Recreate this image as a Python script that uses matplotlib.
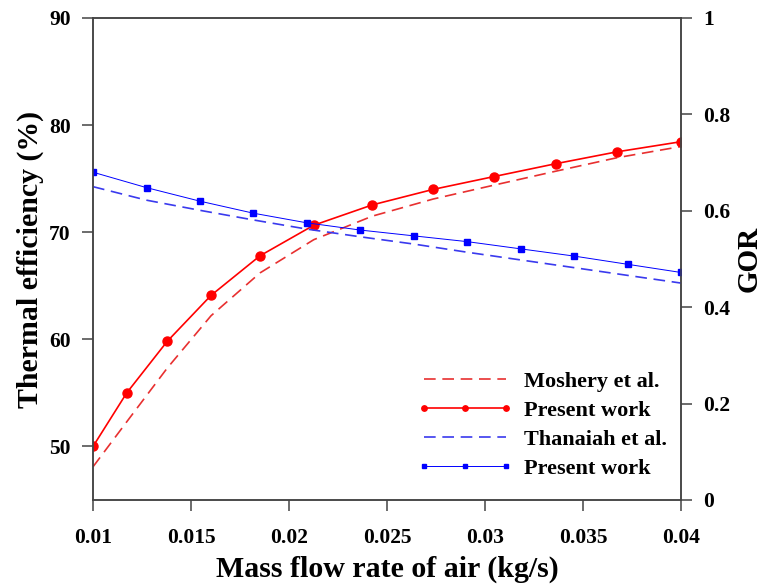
import matplotlib
matplotlib.use('Agg')
import matplotlib.pyplot as plt

plt.rcParams['font.family'] = ['Liberation Serif', 'DejaVu Serif']
plt.rcParams['font.weight'] = 'bold'

# mass flow rate (kg/s)
x_eff = [0.01, 0.01172, 0.01378, 0.01602, 0.01852, 0.02126, 0.02425,
         0.02736, 0.03047, 0.03362, 0.03672, 0.04]
eff_present = [50.0, 55.0, 59.8, 64.1, 67.8, 70.65, 72.55, 74.0, 75.2, 76.4, 77.5, 78.45]
eff_moshery = [48.1, 52.3, 57.3, 62.2, 66.2, 69.3, 71.5, 73.1, 74.4, 75.7, 76.95, 78.0]

x_gor = [0.01, 0.01273, 0.01545, 0.01818, 0.02091, 0.02364, 0.02636,
         0.02909, 0.03182, 0.03455, 0.03727, 0.04]
gor_present = [0.680, 0.648, 0.620, 0.595, 0.575, 0.560, 0.548, 0.536, 0.521, 0.506, 0.489, 0.472]
gor_thanaiah = [0.650, 0.622, 0.601, 0.581, 0.562, 0.546, 0.531, 0.514, 0.498, 0.482, 0.466, 0.450]

fig = plt.figure(figsize=(7.67, 5.86), dpi=100)
ax = fig.add_axes([0.1213, 0.1468, 0.7666, 0.8225])
ax2 = ax.twinx()

spine_c = '#444444'

l1, = ax.plot(x_eff, eff_moshery, color='#e83030', lw=1.2, dashes=(7, 4))
l2, = ax.plot(x_eff, eff_present, color='red', lw=1.2, marker='o', ms=6.5)
l3, = ax2.plot(x_gor, gor_thanaiah, color='#3a3aee', lw=1.2, dashes=(7, 4))
l4, = ax2.plot(x_gor, gor_present, color='blue', lw=0.7, marker='s', ms=5)

ax.set_xlim(0.01, 0.04)
ax.set_ylim(45, 90)
ax2.set_ylim(0, 1)
ax.set_xticks([0.01, 0.015, 0.02, 0.025, 0.03, 0.035, 0.04])
ax.set_xticklabels(['0.01', '0.015', '0.02', '0.025', '0.03', '0.035', '0.04'])
ax.set_yticks([50, 60, 70, 80, 90])
ax2.set_yticks([0, 0.2, 0.4, 0.6, 0.8, 1])
ax2.set_yticklabels(['0', '0.2', '0.4', '0.6', '0.8', '1'])

for a in (ax, ax2):
    for s in a.spines.values():
        s.set_color(spine_c)
        s.set_linewidth(1.1)
    a.tick_params(direction='out', length=8, width=1.1, color=spine_c,
                  labelsize=15.5, pad=8)
ax.tick_params(axis='x', pad=12)

ax.set_xlabel('Mass flow rate of air (kg/s)', fontsize=21.5, fontweight='bold', labelpad=6)
ax.set_ylabel('Thermal efficiency (%)', fontsize=21.5, fontweight='bold', labelpad=4)
ax2.set_ylabel('GOR', fontsize=21, fontweight='bold', labelpad=4)

ax.legend([l1, l2, l3, l4],
          ['Moshery et al.', 'Present work', 'Thanaiah et al.', 'Present work'],
          loc='center', bbox_to_anchor=(0.764, 0.156), frameon=False,
          fontsize=16, handlelength=4.3, labelspacing=0.38, numpoints=3,
          markerscale=0.6, handletextpad=0.5)

fig.savefig('out.png', dpi=100)
